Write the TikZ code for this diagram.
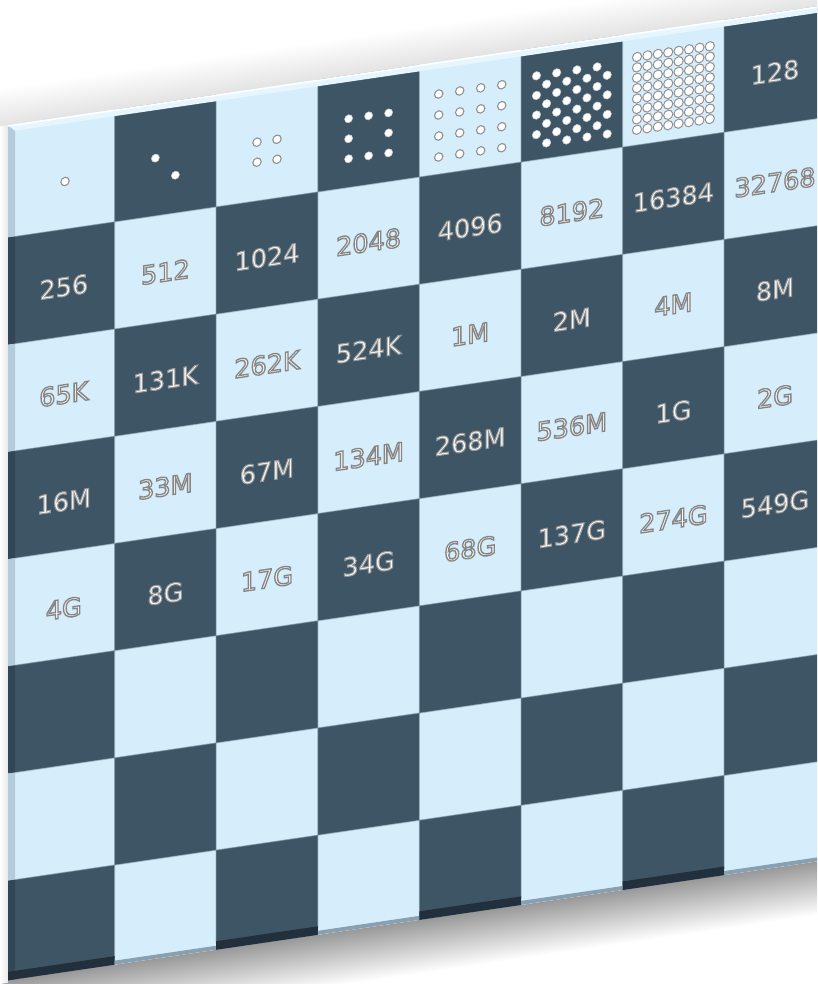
\documentclass[tikz,border=0pt]{standalone}
\usepackage{fontspec}
\setmainfont{DejaVu Sans}
\definecolor{dk}{RGB}{62,85,102}
\definecolor{lt}{RGB}{214,238,251}
\definecolor{olc}{RGB}{145,145,145}
\definecolor{txt}{RGB}{248,248,245}
\definecolor{gridc}{RGB}{118,142,160}
\definecolor{ltbev}{RGB}{178,204,221}
\definecolor{dkbev}{RGB}{50,70,86}
\definecolor{ltbot}{RGB}{138,160,176}
\definecolor{dkbot}{RGB}{33,48,60}
\definecolor{topbev}{RGB}{230,246,254}
\tikzset{
  lab/.style={font=\fontsize{25.5}{25.5}\selectfont, inner sep=0pt, anchor=center, text=txt},
  ldot/.style={fill=white, draw=olc, line width=1.1pt},
  ddot/.style={fill=white, draw=olc!50, line width=0.6pt},
  gridline/.style={gridc, line width=1pt, opacity=0.6}
}
% outlined text: fill + stroke rendering mode
\newcommand\otxtd[1]{\special{pdf:literal direct 2 Tr 1.0 w 0.6 G}#1\special{pdf:literal direct 0 Tr}}
\newcommand\otxtl[1]{\special{pdf:literal direct 2 Tr 1.35 w 0.52 G}#1\special{pdf:literal direct 0 Tr}}
\newcommand\labcell[3]{%
  \pgfmathsetmacro\tx{13+101.6*(#2+0.5)}%
  \pgfmathsetmacro\ty{131.5+107.2*(#1+0.5)+4}%
  \pgfmathtruncatemacro\pq{mod(#1+#2,2)}%
  \ifnum\pq=0 \node[lab] (n#1#2) at (\tx,\ty) {\otxtl{#3}};%
  \else \node[lab] (n#1#2) at (\tx,\ty) {\otxtd{#3}};\fi}
\begin{document}
\begin{tikzpicture}[x=1pt,y=-1pt]
\useasboundingbox (0,0) rectangle (817,984);
\clip (0,0) rectangle (817,984);
\fill[white] (0,0) rectangle (817,984);
\begin{scope}[transform canvas={yslant=0.147}]
  % shadows
  \shade[top color=white, bottom color=black!11] (-20,88) rectangle (840,126.5);
  \shade[top color=black!40, bottom color=white] (-20,981.5) rectangle (840,1035);
  \shade[left color=white, right color=black!9] (0,126.5) rectangle (8,984);
  % cells
  \foreach \r in {0,...,7} \foreach \c in {0,...,7} {
    \pgfmathsetmacro\xa{\c==0 ? 8 : 13+101.6*\c}
    \pgfmathsetmacro\xb{13+101.6*(\c+1)}
    \pgfmathsetmacro\ya{\r==0 ? 126.5 : 131.5+107.2*\r}
    \pgfmathsetmacro\yb{\r==7 ? 981.5 : 131.5+107.2*(\r+1)}
    \pgfmathtruncatemacro\pp{mod(\r+\c,2)}
    \ifnum\pp=0 \fill[lt] (\xa,\ya) rectangle (\xb,\yb);
    \else \fill[dk] (\xa,\ya) rectangle (\xb,\yb); \fi
  }
  % grid lines
  \foreach \c in {1,...,7} \draw[gridline] (13+101.6*\c,133) -- (13+101.6*\c,975);
  \foreach \r in {1,...,7} \draw[gridline] (15,131.5+107.2*\r) -- (830,131.5+107.2*\r);
  % left bevel
  \foreach \r in {0,...,7} {
    \pgfmathsetmacro\ya{\r==0 ? 126.5 : 131.5+107.2*\r}
    \pgfmathsetmacro\yb{\r==7 ? 981.5 : 131.5+107.2*(\r+1)}
    \pgfmathtruncatemacro\pp{mod(\r,2)}
    \ifnum\pp=0 \fill[ltbev] (8,\ya) rectangle (15,\yb);
    \else \fill[dkbev] (8,\ya) rectangle (15,\yb); \fi
  }
  % bottom bevel
  \foreach \c in {0,...,7} {
    \pgfmathsetmacro\xa{\c==0 ? 8 : 13+101.6*\c}
    \pgfmathsetmacro\xb{13+101.6*(\c+1)}
    \pgfmathtruncatemacro\pp{mod(7+\c,2)}
    \ifnum\pp=0 \fill[ltbot] (\xa,977.5) rectangle (\xb,981.5);
    \else \fill[dkbot] (\xa,973) rectangle (\xb,981.5); \fi
  }
  % top bevel
  \fill[topbev] (8,126.5) -- (830,126.5) -- (830,133) -- (15,133) -- cycle;
  \draw[white, line width=1.5pt] (8,127.2) -- (830,127.2);
  % dots, first row
  \path[ldot] (65,191) circle (4.2);
  \foreach \p in {(155.4,181),(175.4,201)} \path[ddot] \p circle (4);
  \foreach \i in {-10,10} \foreach \j in {-10,10} \path[ldot] (267+\i,190+\j) circle (4.2);
  \foreach \p in {(348.6,170),(368.6,170),(388.6,170),(348.6,190),(388.6,190),(348.6,210),(368.6,210),(388.6,210)}
    \path[ddot] \p circle (4);
  \foreach \i in {-31.5,-10.5,10.5,31.5} \foreach \j in {-31.5,-10.5,10.5,31.5}
    \path[ldot] (470.2+\i,190+\j) circle (4.2);
  \foreach \i in {0,...,7} \foreach \j in {0,...,7} {
    \pgfmathtruncatemacro\e{mod(\i+\j,2)}
    \ifnum\e=0 \path[ddot] (571.8+10.1*\i-35.35,189+9.8*\j-34.3) circle (4.2); \fi
  }
  \foreach \i in {0,...,7} \foreach \j in {0,...,7}
    \path[ldot, line width=1pt] (673.4+10.4*\i-36.4,187+10.4*\j-36.4) circle (4.6);
  \node[lab] (n07) at (775,186) {\otxtd{128}};
  % numbers
  \foreach \t [count=\c from 0] in {256,512,1024,2048,4096,8192,16384,32768} {\labcell{1}{\c}{\t}}
  \foreach \t [count=\c from 0] in {65K,131K,262K,524K,1M,2M,4M,8M} {\labcell{2}{\c}{\t}}
  \foreach \t [count=\c from 0] in {16M,33M,67M,134M,268M,536M,1G,2G} {\labcell{3}{\c}{\t}}
  \foreach \t [count=\c from 0] in {4G,8G,17G,34G,68G,137G,274G,549G} {\labcell{4}{\c}{\t}}
\end{scope}
\end{tikzpicture}
\end{document}
